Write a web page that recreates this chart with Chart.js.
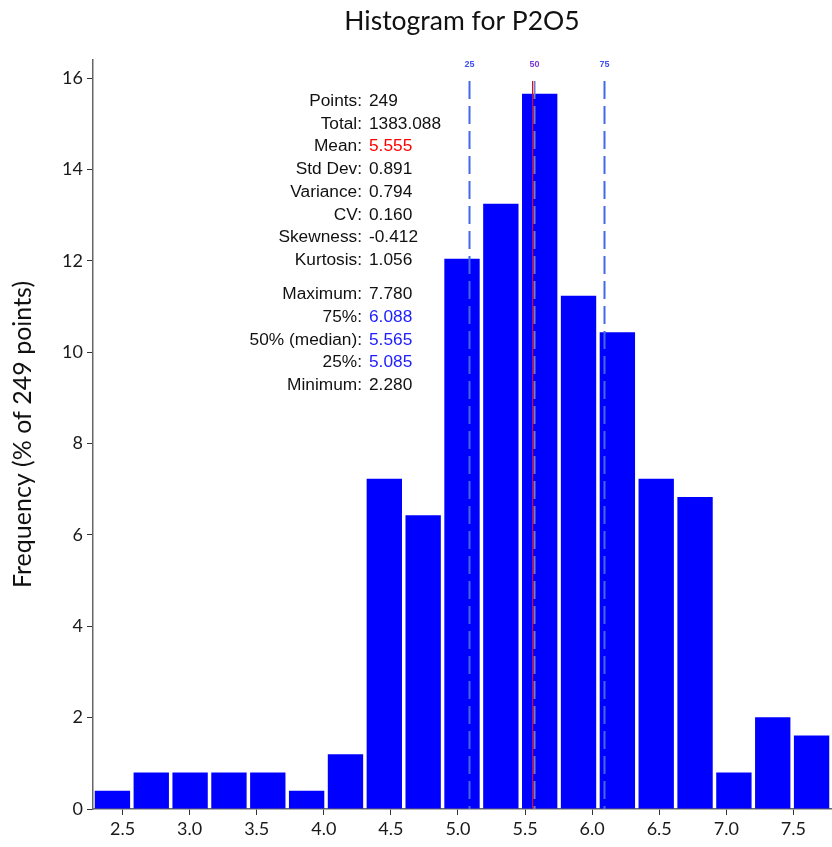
<!DOCTYPE html>
<html>
<head>
<meta charset="utf-8">
<script src="https://cdn.jsdelivr.net/npm/chart.js@4/dist/chart.umd.min.js"></script>
<style>
  html, body { margin: 0; padding: 0; background: #fff; }
  #wrap { width: 832px; height: 847px; }
</style>
</head>
<body>
<div id="wrap"><canvas id="hist" width="832" height="847"></canvas></div>
<script>
// bins: 19 equal bins between min and max
const binMin = 2.28;
const binMax = 7.78;
const freqPct = [0.40, 0.80, 0.80, 0.80, 0.80, 0.40, 1.20, 7.23, 6.43, 12.05, 13.25, 15.66, 11.24, 10.44, 7.23, 6.83, 0.80, 2.01, 1.61];
const xTicks = [2.5, 3.0, 3.5, 4.0, 4.5, 5.0, 5.5, 6.0, 6.5, 7.0, 7.5];
const yTicks = [0, 2, 4, 6, 8, 10, 12, 14, 16];

// percentile / mean markers
const quantNames = ["25", "50", "75"];
const quantValues = [5.085, 5.565, 6.088];
const meanValue = 5.555;

// stats box
const statLabels = ["Points:", "Total:", "Mean:", "Std Dev:", "Variance:", "CV:", "Skewness:", "Kurtosis:",
  "Maximum:", "75%:", "50% (median):", "25%:", "Minimum:"];
const statValues = ["249", "1383.088", "5.555", "0.891", "0.794", "0.160", "-0.412", "1.056",
  "7.780", "6.088", "5.565", "5.085", "2.280"];

const chartTitle = "Histogram for P2O5";

const binWidth = (binMax - binMin) / freqPct.length;
const points = freqPct.map((v, i) => ({ x: binMin + (i + 0.5) * binWidth, y: v }));

const FONT = "Lato, 'Open Sans', sans-serif";

const overlay = {
  id: "overlay",
  afterDatasetsDraw(chart) {
    const ctx = chart.ctx;
    const xs = chart.scales.x;
    const area = chart.chartArea;
    const lineTop = area.top + 21;

    ctx.save();
    // title, centred over the plot area
    ctx.font = "26.5px " + FONT;
    ctx.fillStyle = "#111";
    ctx.textAlign = "center";
    ctx.textBaseline = "alphabetic";
    ctx.fillText(chartTitle, (area.left + area.right) / 2, 30);

    // quantile dashed lines
    quantValues.forEach((q, i) => {
      const px = Math.round(xs.getPixelForValue(q)) + 0.5;
      ctx.beginPath();
      ctx.setLineDash([18, 7]);
      ctx.lineWidth = 2;
      ctx.strokeStyle = i === 1 ? "#6f7fd0" : "#4468e6";
      ctx.moveTo(px, lineTop);
      ctx.lineTo(px, area.bottom);
      ctx.stroke();

      ctx.setLineDash([]);
      ctx.fillStyle = i === 1 ? "#7a3ad8" : "#3f4ff0";
      ctx.font = "bold 9px 'Liberation Sans', Arial, sans-serif";
      ctx.textAlign = "center";
      ctx.textBaseline = "middle";
      ctx.fillText(quantNames[i], px, area.top + 5);
    });

    // mean line
    const mx = Math.round(xs.getPixelForValue(meanValue)) + 0.5;
    ctx.beginPath();
    ctx.setLineDash([]);
    ctx.lineWidth = 1;
    ctx.strokeStyle = "#ff0000";
    ctx.moveTo(mx, lineTop);
    ctx.lineTo(mx, area.bottom);
    ctx.stroke();

    // stats text
    ctx.font = "17.3px 'Liberation Sans', Arial, sans-serif";
    ctx.textBaseline = "alphabetic";
    const labelRight = area.left + 269;
    const valueLeft = area.left + 276;
    statLabels.forEach((lab, i) => {
      const y = 106 + i * 22.7 + (i >= 8 ? 11.6 : 0);
      ctx.textAlign = "right";
      ctx.fillStyle = "#111";
      ctx.fillText(lab, labelRight, y);
      ctx.textAlign = "left";
      if (i === 2) ctx.fillStyle = "#ff0000";
      else if (i >= 9 && i <= 11) ctx.fillStyle = "#2020ff";
      else ctx.fillStyle = "#111";
      ctx.fillText(statValues[i], valueLeft, y);
    });
    ctx.restore();
  }
};

new Chart(document.getElementById("hist").getContext("2d"), {
  type: "bar",
  data: {
    datasets: [{
      data: points,
      backgroundColor: "#0000ff",
      borderWidth: 0,
      barPercentage: 0.91,
      categoryPercentage: 1.0
    }]
  },
  options: {
    responsive: false,
    devicePixelRatio: 1,
    animation: false,
    layout: { padding: { left: 0, right: 1, top: 60, bottom: 0 } },
    plugins: {
      legend: { display: false },
      tooltip: { enabled: false },
      title: { display: false }
    },
    scales: {
      x: {
        type: "linear",
        min: binMin,
        max: binMax,
        offset: false,
        afterBuildTicks: (s) => { s.ticks = xTicks.map(v => ({ value: v })); },
        afterFit: (s) => { s.height = 38; },
        ticks: {
          color: "#1a1a1a",
          font: { family: FONT, size: 18 },
          padding: 3,
          maxRotation: 0,
          callback: (v) => v.toFixed(1)
        },
        grid: { offset: false, drawOnChartArea: false, drawTicks: true, tickLength: 6, color: "#333", lineWidth: 1 },
        border: { display: true, color: "#666", width: 1.5 }
      },
      y: {
        min: 0,
        max: 16.4,
        afterBuildTicks: (s) => { s.ticks = yTicks.map(v => ({ value: v })); },
        afterFit: (s) => { s.width = 93; },
        ticks: {
          color: "#1a1a1a",
          font: { family: FONT, size: 18 },
          padding: 4
        },
        grid: { offset: false, drawOnChartArea: false, drawTicks: true, tickLength: 6, color: "#333", lineWidth: 1 },
        border: { display: true, color: "#666", width: 1.5 },
        title: {
          display: true,
          text: "Frequency (% of 249 points)",
          color: "#111",
          font: { family: FONT, size: 25 },
          padding: { top: 8, bottom: 0 }
        }
      }
    }
  },
  plugins: [overlay]
});
</script>
</body>
</html>
